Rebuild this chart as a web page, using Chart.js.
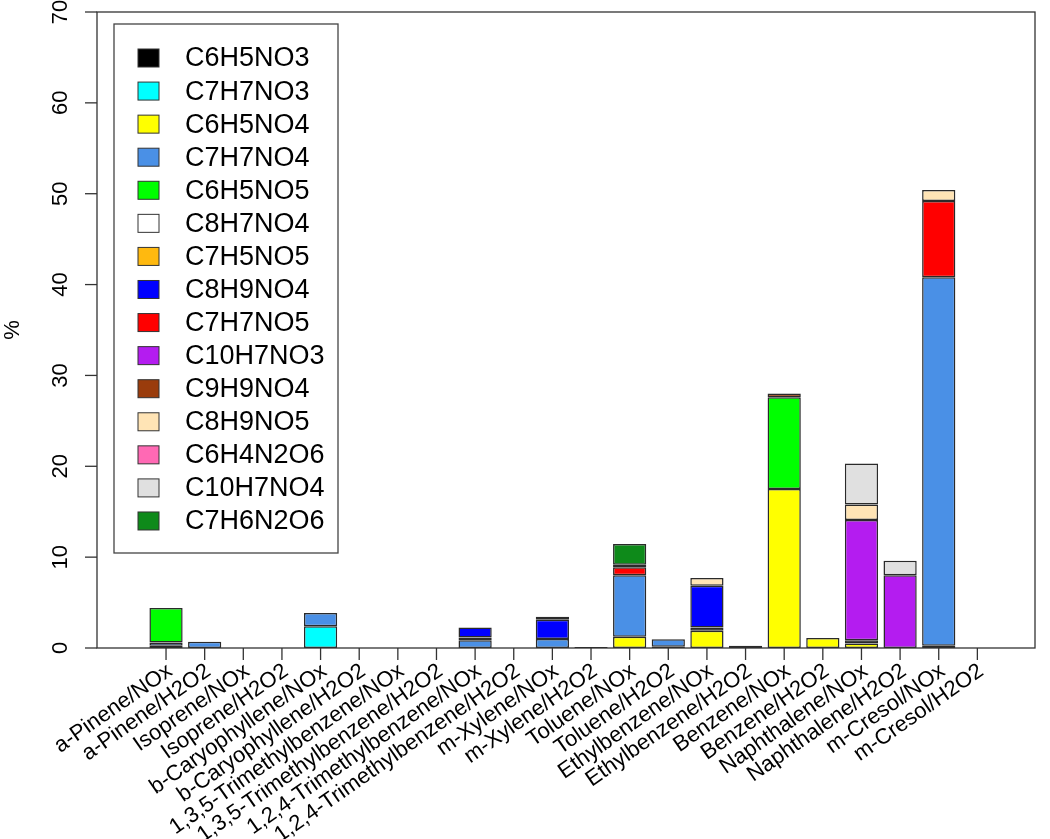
<!DOCTYPE html>
<html>
<head>
<meta charset="utf-8">
<script src="https://cdn.jsdelivr.net/npm/chart.js@4.4.0/dist/chart.umd.min.js"></script>
<style>
  html, body { margin: 0; padding: 0; background: #fff; }
</style>
</head>
<body>
<canvas id="chart" width="1050" height="839"></canvas>
<script>
var experiments = [
  "a-Pinene/NOx", "a-Pinene/H2O2", "Isoprene/NOx", "Isoprene/H2O2",
  "b-Caryophyllene/NOx", "b-Caryophyllene/H2O2",
  "1,3,5-Trimethylbenzene/NOx", "1,3,5-Trimethylbenzene/H2O2",
  "1,2,4-Trimethylbenzene/NOx", "1,2,4-Trimethylbenzene/H2O2",
  "m-Xylene/NOx", "m-Xylene/H2O2", "Toluene/NOx", "Toluene/H2O2",
  "Ethylbenzene/NOx", "Ethylbenzene/H2O2", "Benzene/NOx", "Benzene/H2O2",
  "Naphthalene/NOx", "Naphthalene/H2O2", "m-Cresol/NOx", "m-Cresol/H2O2"
];

var species = ["C6H5NO3", "C7H7NO3", "C6H5NO4", "C7H7NO4", "C6H5NO5", "C8H7NO4", "C7H5NO5",
  "C8H9NO4", "C7H7NO5", "C10H7NO3", "C9H9NO4", "C8H9NO5", "C6H4N2O6", "C10H7NO4", "C7H6N2O6"];

var speciesColors = ["#000000", "#00ffff", "#ffff00", "#4a90e6", "#00ff00", "#ffffff", "#ffb90f",
  "#0000ff", "#ff0000", "#b41cf0", "#9a3c0c", "#ffe4b5", "#ff69b4", "#e0e0e0", "#0e8a1a"];

// stacking rank of each species (bottom first); legend keeps the order above
var stackRank = [2, 0, 1, 3, 4, 5, 6, 7, 8, 9, 10, 11, 12, 13, 14];

// % per experiment, one array per species
var C6H5NO3  = [0.25, 0, 0, 0, 0, 0, 0, 0, 0, 0, 0, 0.12, 0, 0.15, 0.35, 0, 0, 0, 0.35, 0, 0.25, 0];
var C7H7NO3  = [0, 0, 0, 0, 2.4, 0, 0, 0, 0, 0, 0, 0, 0, 0, 0, 0, 0, 0, 0, 0, 0, 0];
var C6H5NO4  = [0, 0, 0, 0, 0, 0, 0, 0, 0, 0, 0, 0, 1.25, 0, 1.9, 0.25, 17.5, 1.1, 0.5, 0, 0, 0];
var C7H7NO4  = [0.35, 0.7, 0, 0, 1.45, 0, 0, 0, 0.85, 0, 1.0, 0, 6.75, 0.8, 0, 0, 0, 0, 0, 0, 40.55, 0];
var C6H5NO5  = [3.8, 0, 0, 0, 0, 0, 0, 0, 0, 0, 0, 0, 0, 0, 0, 0, 10.1, 0, 0, 0, 0, 0];
var C8H7NO4  = [0, 0, 0, 0, 0, 0, 0, 0, 0.3, 0, 0, 0, 0, 0, 0, 0, 0, 0, 0, 0, 0, 0];
var C7H5NO5  = [0, 0, 0, 0, 0, 0, 0, 0, 0, 0, 0, 0, 0, 0, 0, 0, 0, 0, 0, 0, 0, 0];
var C8H9NO4  = [0, 0, 0, 0, 0, 0, 0, 0, 1.1, 0, 2.1, 0, 0, 0, 4.6, 0, 0, 0, 0, 0, 0, 0];
var C7H7NO5  = [0, 0, 0, 0, 0, 0, 0, 0, 0, 0, 0, 0, 0.9, 0, 0, 0, 0, 0, 0, 0, 8.4, 0];
var C10H7NO3 = [0, 0, 0, 0, 0, 0, 0, 0, 0, 0, 0, 0, 0, 0, 0, 0, 0, 0, 13.25, 8.0, 0, 0];
var C9H9NO4  = [0, 0, 0, 0, 0, 0, 0, 0, 0, 0, 0, 0, 0.25, 0, 0, 0, 0.4, 0, 0, 0, 0, 0];
var C8H9NO5  = [0, 0, 0, 0, 0, 0, 0, 0, 0, 0, 0.35, 0, 0, 0, 0.85, 0, 0, 0, 1.7, 0, 1.2, 0];
var C6H4N2O6 = [0, 0, 0, 0, 0, 0, 0, 0, 0, 0, 0, 0, 0, 0, 0, 0, 0, 0, 0, 0, 0, 0];
var C10H7NO4 = [0, 0, 0, 0, 0, 0, 0, 0, 0, 0, 0, 0, 0, 0, 0, 0, 0, 0, 4.5, 1.6, 0, 0];
var C7H6N2O6 = [0, 0, 0, 0, 0, 0, 0, 0, 0, 0, 0, 0, 2.3, 0, 0, 0, 0, 0, 0, 0, 0, 0];

var seriesValues = [C6H5NO3, C7H7NO3, C6H5NO4, C7H7NO4, C6H5NO5, C8H7NO4, C7H5NO5,
  C8H9NO4, C7H7NO5, C10H7NO3, C9H9NO4, C8H9NO5, C6H4N2O6, C10H7NO4, C7H6N2O6];

var yTicks = [0, 10, 20, 30, 40, 50, 60, 70];

var FONT = '"Liberation Sans", Arial, sans-serif';

var datasets = species.map(function(name, i) {
  return {
    label: name,
    order: stackRank[i],
    backgroundColor: speciesColors[i],
    borderColor: '#2a2a2a',
    borderWidth: 1.5,
    borderSkipped: false,
    categoryPercentage: 1,
    barPercentage: 0.86,
    data: seriesValues[i].map(function(v, j) { return { x: j, y: v > 0 ? v : null }; })
  };
});

// frame, axes, tick labels and the boxed legend, R style
var rAxes = {
  id: 'rAxes',
  afterDraw: function(chart) {
    var ctx = chart.ctx, a = chart.chartArea;
    var xs = chart.scales.x, ys = chart.scales.y;
    ctx.save();
    ctx.strokeStyle = '#333';
    ctx.lineWidth = 1.3;
    ctx.strokeRect(a.left, a.top, a.right - a.left, a.bottom - a.top);

    ctx.fillStyle = '#000';
    ctx.font = '22px ' + FONT;
    yTicks.forEach(function(v) {
      var py = ys.getPixelForValue(v);
      ctx.beginPath();
      ctx.moveTo(a.left, py);
      ctx.lineTo(a.left - 12, py);
      ctx.stroke();
      ctx.save();
      ctx.translate(a.left - 36, py);
      ctx.rotate(-Math.PI / 2);
      ctx.textAlign = 'center';
      ctx.textBaseline = 'middle';
      ctx.fillText(String(v), 0, 0);
      ctx.restore();
    });

    ctx.save();
    ctx.translate(13, (a.top + a.bottom) / 2);
    ctx.rotate(-Math.PI / 2);
    ctx.textAlign = 'center';
    ctx.textBaseline = 'middle';
    ctx.fillText('%', 0, 0);
    ctx.restore();

    experiments.forEach(function(name, i) {
      var px = xs.getPixelForValue(i);
      ctx.beginPath();
      ctx.moveTo(px, a.bottom);
      ctx.lineTo(px, a.bottom + 12);
      ctx.stroke();
      ctx.save();
      ctx.translate(px + 4, a.bottom + 21);
      ctx.rotate(-35 * Math.PI / 180);
      ctx.textAlign = 'right';
      ctx.textBaseline = 'middle';
      ctx.fillText(name, 0, 0);
      ctx.restore();
    });

    // legend box
    var lx = a.left + 17, ly = a.top + 12, lw = 224, lh = 529, step = 33.07;
    ctx.strokeStyle = '#444';
    ctx.lineWidth = 1.3;
    ctx.fillStyle = '#fff';
    ctx.fillRect(lx, ly, lw, lh);
    ctx.strokeRect(lx, ly, lw, lh);
    ctx.font = '27px ' + FONT;
    ctx.textAlign = 'left';
    ctx.textBaseline = 'middle';
    chart.data.datasets.forEach(function(ds, i) {
      var cy = ly + 34 + i * step;
      ctx.fillStyle = ds.backgroundColor;
      ctx.fillRect(lx + 24, cy - 9, 21, 18);
      ctx.lineWidth = 1;
      ctx.strokeStyle = '#333';
      ctx.strokeRect(lx + 24, cy - 9, 21, 18);
      ctx.fillStyle = '#000';
      ctx.fillText(ds.label, lx + 71, cy + 1);
    });
    ctx.restore();
  }
};

new Chart(document.getElementById('chart').getContext('2d'), {
  type: 'bar',
  data: { datasets: datasets },
  options: {
    responsive: false,
    animation: false,
    layout: { padding: { top: 12, right: 15, left: 0, bottom: 0 } },
    plugins: { legend: { display: false }, tooltip: { enabled: false } },
    scales: {
      x: {
        type: 'linear',
        min: -1.235,
        max: 21.94,
        stacked: true,
        grid: { display: false },
        border: { display: false },
        ticks: { display: false },
        afterBuildTicks: function(s) { s.ticks = experiments.map(function(n, i) { return { value: i }; }); },
        afterFit: function(s) { s.height = 191; }
      },
      y: {
        min: 0,
        max: 70,
        stacked: true,
        grid: { display: false },
        border: { display: false },
        ticks: { display: false, stepSize: 10 },
        afterFit: function(s) { s.width = 97; }
      }
    }
  },
  plugins: [rAxes]
});
</script>
</body>
</html>
